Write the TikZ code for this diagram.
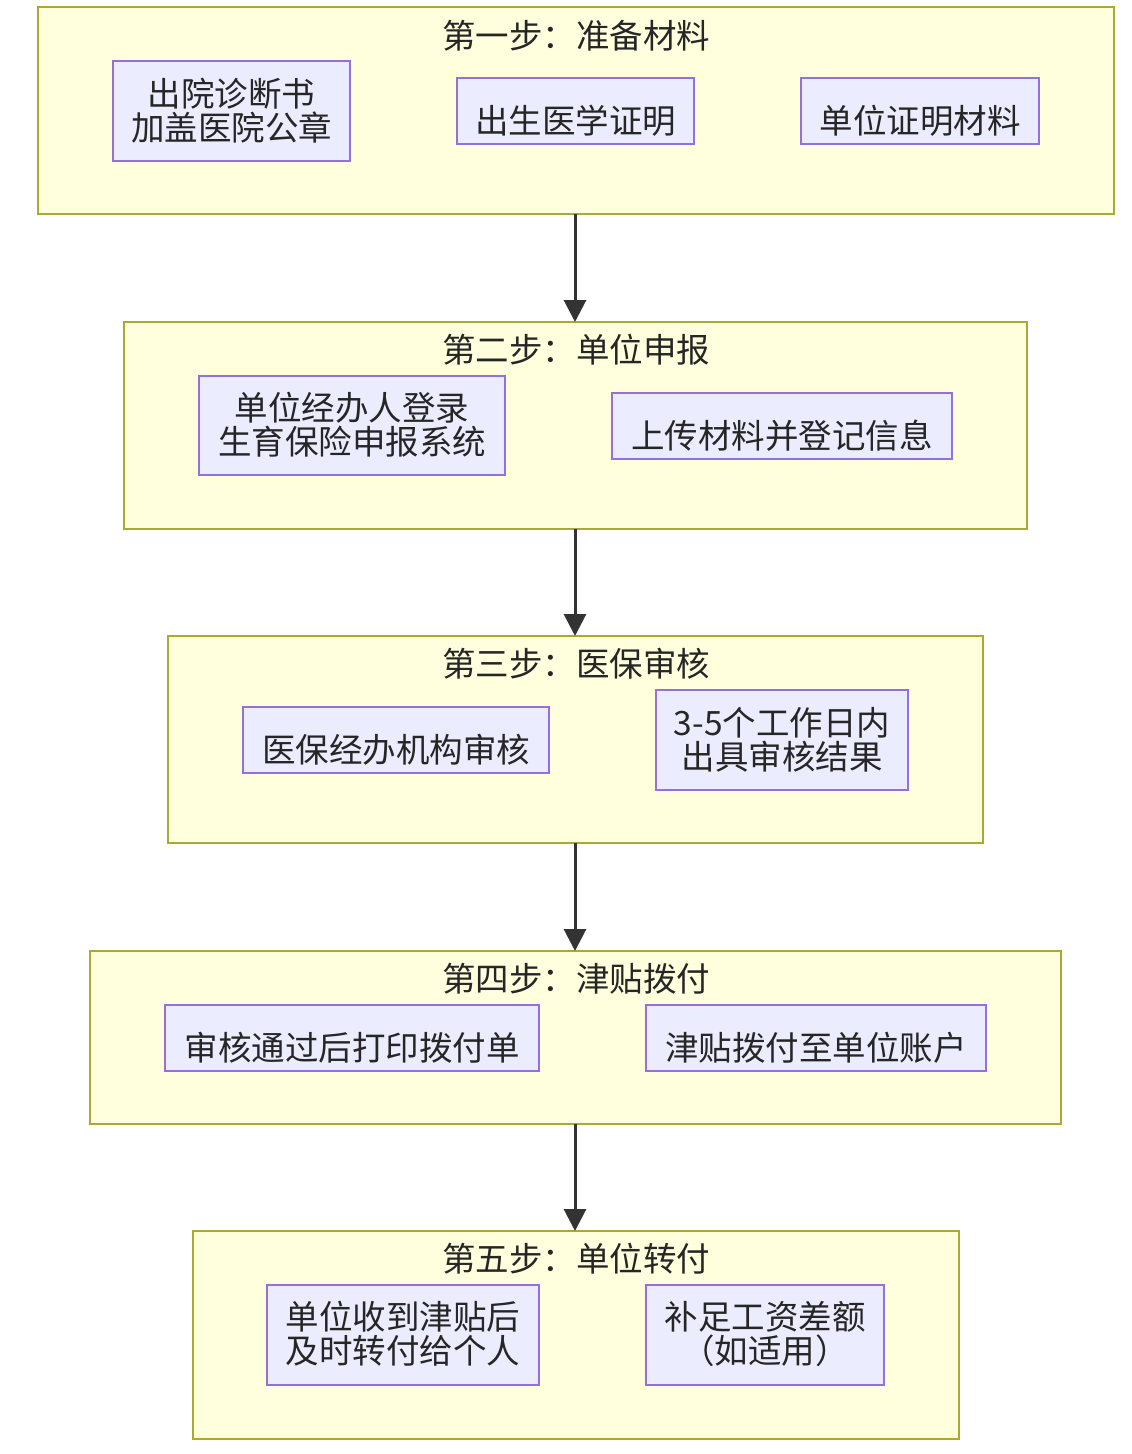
\documentclass[tikz,border=0pt]{standalone}
\usepackage{fontspec}
\setmainfont{Noto Sans CJK SC}
\usetikzlibrary{arrows.meta}
\definecolor{grpfill}{HTML}{FFFFDE}
\definecolor{grpline}{HTML}{AAAA33}
\definecolor{boxfill}{HTML}{ECECFF}
\definecolor{boxline}{HTML}{9370DB}
\definecolor{arr}{HTML}{333333}
\tikzset{
 grp/.style={draw=grpline,fill=grpfill,line width=1.5pt},
 itm/.style={draw=boxline,fill=boxfill,line width=1.5pt},
 txt/.style={font=\fontsize{33.5}{34}\selectfont,align=center,text=black!85,inner sep=0pt},
 flow/.style={draw=arr,line width=3pt,-{Triangle[length=22pt,width=22pt]}}
}
\begin{document}
\begin{tikzpicture}[x=1pt,y=-1pt]
\useasboundingbox (0,0) rectangle (1132,1454);
% groups
\draw[grp] (38,7) rectangle (1114,214); \coordinate (g1b) at (575,214);
\draw[grp] (124,322) rectangle (1027,529); \coordinate (g2t) at (575,322); \coordinate (g2b) at (575,529);
\draw[grp] (168,636) rectangle (983,843); \coordinate (g3t) at (575,636); \coordinate (g3b) at (575,843);
\draw[grp] (90,951) rectangle (1061,1124); \coordinate (g4t) at (575,951); \coordinate (g4b) at (575,1124);
\draw[grp] (193,1231) rectangle (959,1439); \coordinate (g5t) at (575,1231);
\node[txt] (t1) at (576,36) {第一步：准备材料};
\node[txt] (t2) at (576,350) {第二步：单位申报};
\node[txt] (t3) at (576,664) {第三步：医保审核};
\node[txt] (t4) at (576,979) {第四步：津贴拨付};
\node[txt] (t5) at (576,1259) {第五步：单位转付};
% items
\draw[itm] (113,61) rectangle (350,161); \node[txt] (a1) at (231.5,111) {出院诊断书\\加盖医院公章};
\draw[itm] (457,78) rectangle (694,144); \node[txt] (a2) at (575.5,121) {出生医学证明};
\draw[itm] (801,78) rectangle (1039,144); \node[txt] (a3) at (920,121) {单位证明材料};
\draw[itm] (199,376) rectangle (505,475); \node[txt] (b1) at (352,425) {单位经办人登录\\生育保险申报系统};
\draw[itm] (612,393) rectangle (952,459); \node[txt] (b2) at (782,436) {上传材料并登记信息};
\draw[itm] (243,707) rectangle (549,773); \node[txt] (c1) at (396,750) {医保经办机构审核};
\draw[itm] (656,690) rectangle (908,790); \node[txt] (c2) at (782,740) {3-5个工作日内\\出具审核结果};
\draw[itm] (165,1005) rectangle (539,1071); \node[txt] (d1) at (352,1048) {审核通过后打印拨付单};
\draw[itm] (646,1005) rectangle (986,1071); \node[txt] (d2) at (816,1048) {津贴拨付至单位账户};
\draw[itm] (267,1285) rectangle (539,1385); \node[txt] (e1) at (403,1334) {单位收到津贴后\\及时转付给个人};
\draw[itm] (646,1285) rectangle (884,1385); \node[txt] (e2) at (765,1334) {补足工资差额\\（如适用）};
% arrows
\draw[flow] (g1b) -- (g2t);
\draw[flow] (g2b) -- (g3t);
\draw[flow] (g3b) -- (g4t);
\draw[flow] (g4b) -- (g5t);
\end{tikzpicture}
\end{document}
